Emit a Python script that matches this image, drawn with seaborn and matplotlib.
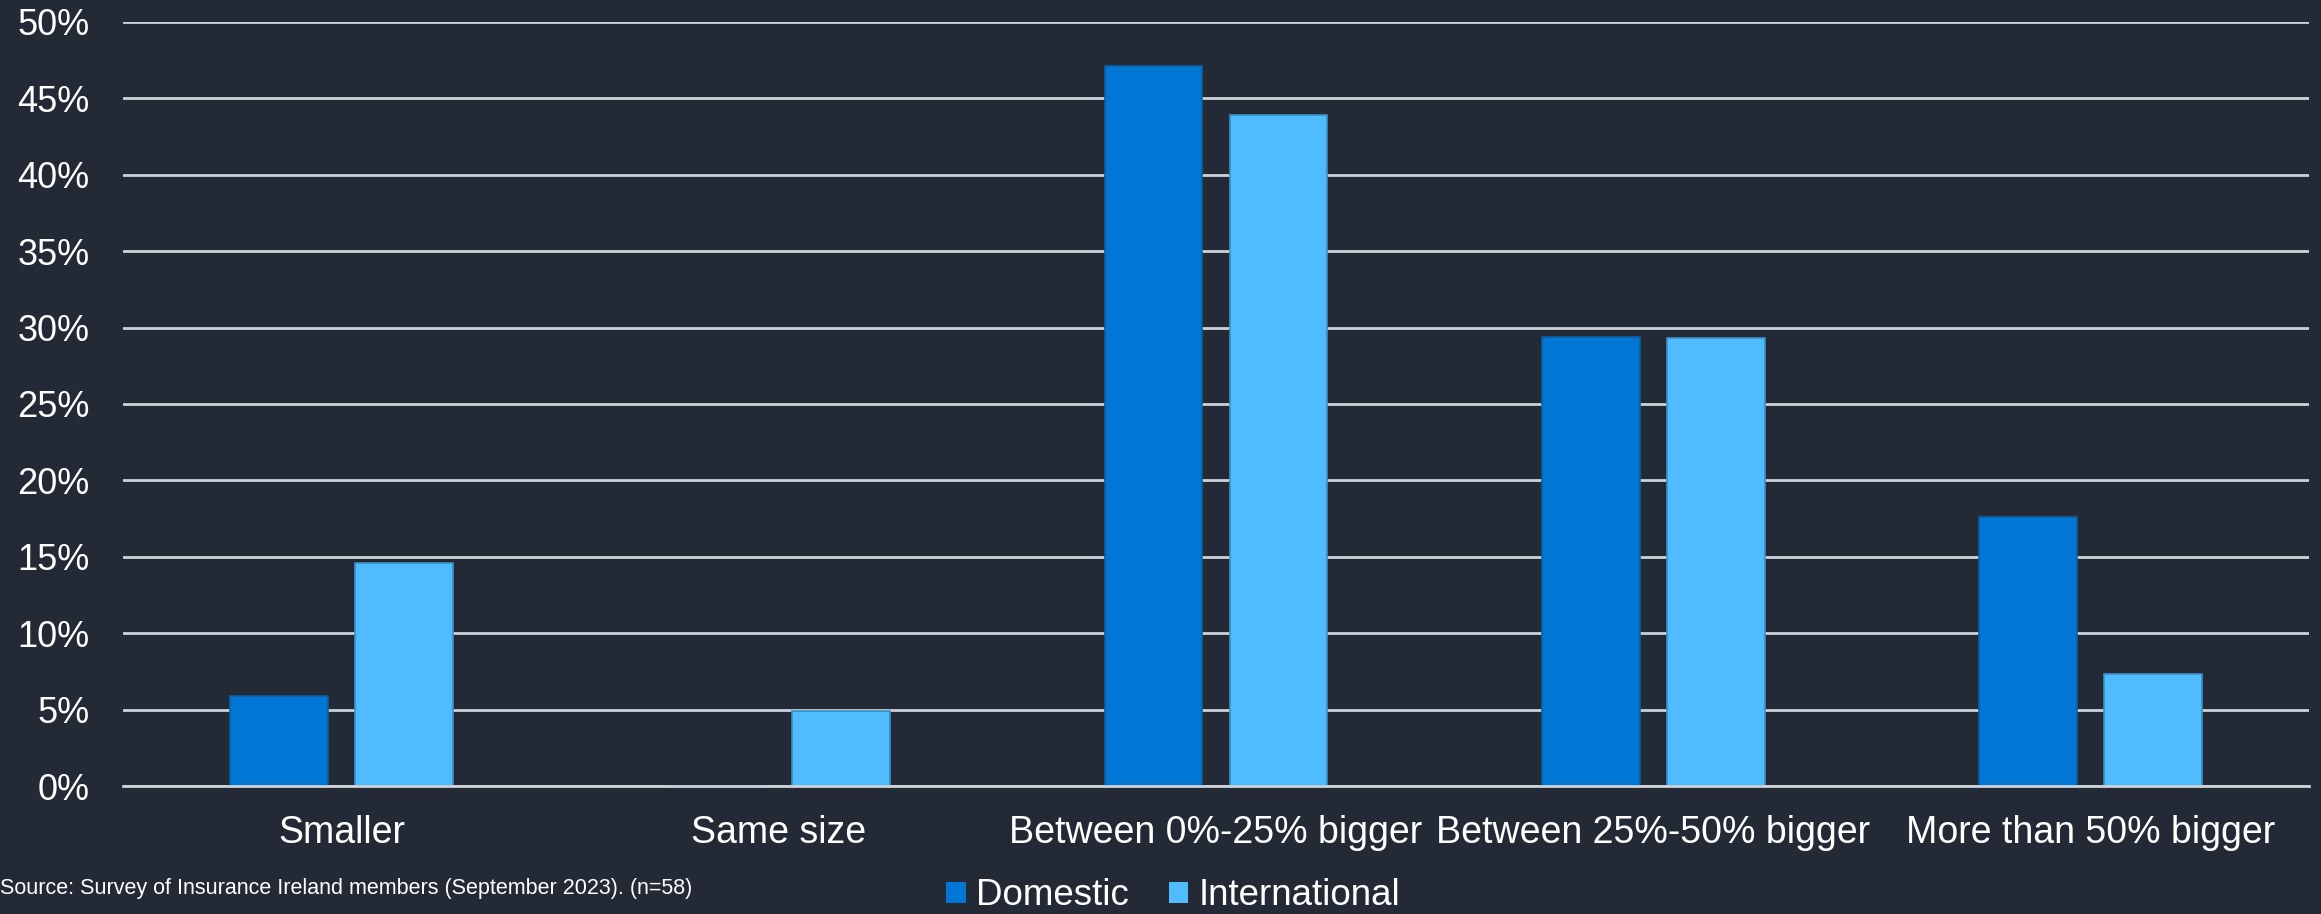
import matplotlib
matplotlib.use("Agg")
import matplotlib.pyplot as plt
import seaborn as sns
import pandas as pd
from matplotlib.ticker import FuncFormatter
from matplotlib.patches import Patch

categories = ["Smaller", "Same size", "Between 0%-25% bigger",
              "Between 25%-50% bigger", "More than 50% bigger"]
domestic = [5.9, 0.0, 47.1, 29.4, 17.6]
international = [14.6, 4.9, 43.9, 29.3, 7.3]
series_names = ["Domestic", "International"]
y_ticks = [0, 5, 10, 15, 20, 25, 30, 35, 40, 45, 50]
source_note = "Source: Survey of Insurance Ireland members (September 2023). (n=58)"

BG = "#232A36"
GRID = "#CDD2DA"
TEXT = "#FFFFFF"
colors = {"Domestic": "#0077D4", "International": "#4FBCFF"}
edges = {"Domestic": "#0A5FA3", "International": "#3A8FC4"}

df = pd.DataFrame({
    "category": categories * 2,
    "series": [series_names[0]] * len(categories) + [series_names[1]] * len(categories),
    "value": domestic + international,
})

sns.set_theme(style="white")
plt.rcParams["font.family"] = ["Liberation Sans", "DejaVu Sans"]

fig = plt.figure(figsize=(23.21, 9.14), dpi=100, facecolor=BG)
ax = fig.add_axes([0.053, 0.140, 0.9418, 0.836])
ax.set_facecolor(BG)

sns.barplot(data=df, x="category", y="value", hue="series", order=categories,
            hue_order=series_names, palette=colors, width=0.572, gap=0.217,
            saturation=1, legend=False, ax=ax, zorder=3)

for container, name in zip(ax.containers, series_names):
    for bar in container:
        bar.set_edgecolor(edges[name])
        bar.set_linewidth(1.2)

ax.set_ylim(0, 50)
ax.set_xlim(-0.5, len(categories) - 0.5)
ax.set_yticks(y_ticks)
ax.yaxis.set_major_formatter(FuncFormatter(lambda v, _: f"{v:.0f}%"))
ax.yaxis.grid(True, color=GRID, linewidth=2.0, zorder=0)
ax.xaxis.grid(False)
for side in ["top", "right", "left"]:
    ax.spines[side].set_visible(False)
ax.spines["bottom"].set_color(GRID)
ax.spines["bottom"].set_linewidth(2.0)
ax.spines["bottom"].set_zorder(4)

ax.tick_params(axis="y", length=0, pad=24, labelsize=26, labelcolor=TEXT)
ax.tick_params(axis="x", length=0, pad=21, labelsize=27, labelcolor=TEXT)
ax.set_xlabel("")
ax.set_ylabel("")

fig.text(0.0, 0.0274, source_note, color=TEXT, fontsize=15.5, ha="left", va="center")

handles = [Patch(facecolor=colors[n], edgecolor="none", label=n) for n in series_names]
fig.legend(handles=handles, loc="center", bbox_to_anchor=(0.5055, 0.020), ncol=2,
           frameon=False, fontsize=26.5, labelcolor=TEXT, handlelength=0.52,
           handleheight=0.5, handletextpad=0.28, columnspacing=1.09,
           borderpad=0, borderaxespad=0)

fig.savefig("out.png", dpi=100, facecolor=BG)
